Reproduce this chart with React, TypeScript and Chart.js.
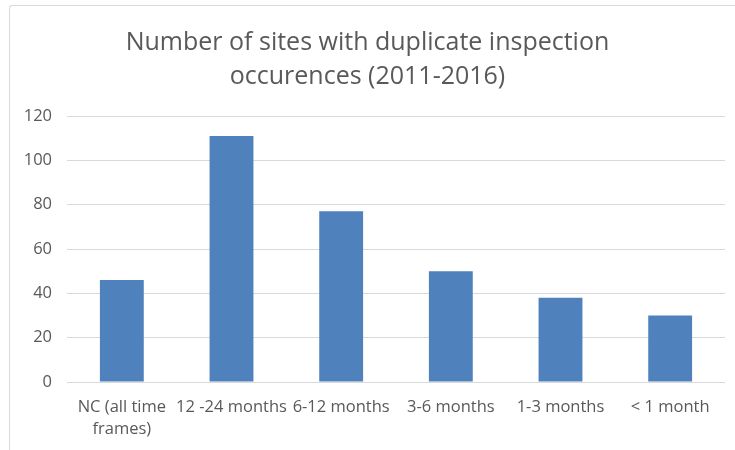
import React, { useEffect, useRef } from "react";
import { Chart, registerables } from "chart.js";

Chart.register(...registerables);

const titleLines = ["Number of sites with duplicate inspection", "occurences (2011-2016)"];
const categories: (string | string[])[] = [
  ["NC (all time", "frames)"],
  "12 -24 months",
  "6-12 months",
  "3-6 months",
  "1-3 months",
  "< 1 month",
];
const siteCounts = [46, 111, 77, 50, 38, 30];
const yMin = 0;
const yMax = 120;
const yStep = 20;

const FONT = "'Open Sans', sans-serif";
const TEXT = "#595959";
const GRID = "#d9d9d9";
const BAR = "#4F81BD";

export default function App() {
  const ref = useRef<HTMLCanvasElement | null>(null);
  useEffect(() => {
    if (!ref.current) return;
    const chart = new Chart(ref.current, {
      type: "bar",
      data: {
        labels: categories,
        datasets: [
          {
            label: "Sites",
            data: siteCounts,
            backgroundColor: BAR,
            borderWidth: 0,
            categoryPercentage: 0.8,
            barPercentage: 0.5,
          },
        ],
      },
      options: {
        responsive: false,
        animation: false,
        layout: { padding: { left: 10, right: 10, top: 0, bottom: 0 } },
        plugins: {
          legend: { display: false },
          tooltip: { enabled: false },
          title: {
            display: true,
            text: titleLines,
            color: TEXT,
            font: { family: FONT, size: 25, weight: "normal", lineHeight: 34 / 25 },
            padding: { top: 26, bottom: 22 },
          },
        },
        scales: {
          x: {
            grid: { display: false, drawTicks: false },
            border: { display: false },
            ticks: {
              color: TEXT,
              font: { family: FONT, size: 16.5, lineHeight: 22 / 16.5 },
              padding: 14,
              maxRotation: 0,
              autoSkip: false,
            },
            afterFit: (s: any) => {
              s.height = 68;
            },
          },
          y: {
            min: yMin,
            max: yMax,
            grid: { color: GRID, drawTicks: false, lineWidth: 1 },
            border: { display: false },
            ticks: {
              stepSize: yStep,
              color: TEXT,
              font: { family: FONT, size: 16.5 },
              padding: 15,
            },
            afterFit: (s: any) => {
              s.width = 57;
            },
          },
        },
      },
    });
    return () => chart.destroy();
  }, []);

  return (
    <div style={{ position: "fixed", left: 0, top: 0, width: 735, height: 450, overflow: "hidden", background: "#fff" }}>
      <div
        style={{
          position: "absolute",
          left: 9,
          top: 5,
          width: 760,
          height: 480,
          borderLeft: `1px solid ${GRID}`,
          borderTop: `1px solid ${GRID}`,
          borderTopLeftRadius: 3,
        }}
      />
      <canvas ref={ref} width={735} height={450} style={{ position: "absolute", left: 0, top: 0 }} />
    </div>
  );
}
